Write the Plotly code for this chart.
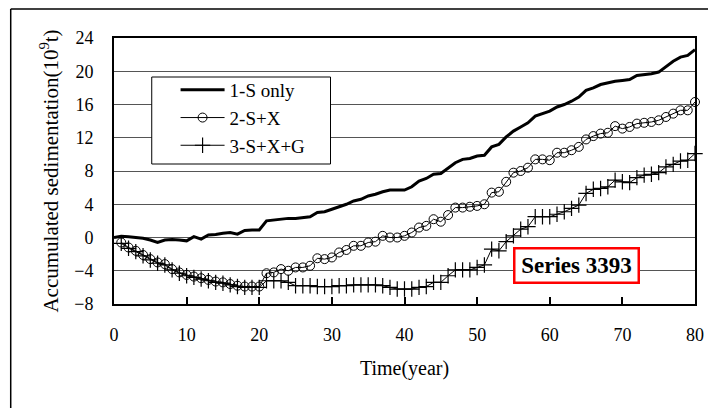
import plotly.graph_objects as go

years_s1 = list(range(0, 81))
years_s23 = list(range(1, 81))

s1_only = [0.0, 0.15, 0.1, 0.0, -0.1, -0.3, -0.6, -0.3, -0.25, -0.3, -0.4,
           0.1, -0.2, 0.3, 0.35, 0.5, 0.6, 0.4, 0.85, 0.9, 0.9,
           2.0, 2.1, 2.2, 2.3, 2.3, 2.4, 2.5, 3.0, 3.1, 3.4,
           3.7, 4.0, 4.4, 4.6, 5.0, 5.2, 5.5, 5.7, 5.7, 5.7,
           6.1, 6.8, 7.1, 7.6, 7.7, 8.4, 9.0, 9.4, 9.5, 9.8,
           9.9, 10.9, 11.2, 12.1, 12.8, 13.3, 13.8, 14.6, 14.9, 15.2,
           15.7, 16.0, 16.4, 16.9, 17.7, 18.0, 18.4, 18.6, 18.8, 18.9,
           19.0, 19.5, 19.6, 19.7, 19.9, 20.6, 21.2, 21.7, 21.9, 22.6]

s2_sx = [-0.6, -1.2, -1.6, -2.1, -2.6, -3.0, -3.2, -3.8, -4.2, -4.5,
         -4.7, -4.9, -5.1, -5.3, -5.4, -5.6, -5.8, -5.9, -5.9, -5.9,
         -4.3, -4.2, -3.8, -4.0, -3.6, -3.6, -3.4, -2.5, -2.6, -2.4,
         -1.8, -1.5, -1.0, -1.0, -0.6, -0.5, 0.2, 0.0, 0.0, 0.2,
         0.6, 1.2, 1.4, 2.2, 1.9, 2.7, 3.6, 3.6, 3.7, 3.8,
         4.0, 5.4, 5.5, 6.7, 7.8, 8.0, 8.4, 9.4, 9.4, 9.3,
         10.2, 10.2, 10.5, 10.9, 11.8, 12.2, 12.5, 12.6, 13.4, 13.1,
         13.3, 13.7, 13.8, 13.9, 14.1, 14.5, 14.9, 15.3, 15.3, 16.3]

s3_sxg = [-0.7, -1.3, -1.7, -2.2, -2.7, -3.1, -3.3, -3.9, -4.3, -4.6,
          -4.8, -5.0, -5.2, -5.4, -5.5, -5.7, -5.9, -6.0, -6.0, -6.0,
          -5.2, -5.2, -5.2, -5.4, -5.8, -5.8, -5.8, -5.9, -5.9, -5.9,
          -5.8, -5.8, -5.7, -5.7, -5.7, -5.7, -5.8, -6.0, -6.2, -6.2,
          -6.2, -6.0, -5.9, -5.4, -5.4, -4.6, -3.9, -3.9, -3.9, -3.6,
          -3.3, -1.4, -1.6, -0.5, 0.2, 1.0, 1.3, 2.5, 2.5, 2.5,
          2.8, 3.1, 3.5, 3.9, 5.3, 5.8, 5.9, 6.1, 6.9, 6.7,
          6.6, 7.2, 7.5, 7.6, 7.8, 8.5, 8.8, 9.2, 9.3, 10.1]

series_names = ["1-S only", "2-S+X", "3-S+X+G"]
x_ticks = [0, 10, 20, 30, 40, 50, 60, 70, 80]
y_ticks = [-8, -4, 0, 4, 8, 12, 16, 20, 24]

SERIF = "Liberation Serif, Times New Roman, serif"

fig = go.Figure()
fig.add_trace(go.Scatter(x=years_s1, y=s1_only, mode="lines", name=series_names[0],
                         line=dict(color="black", width=3),
                         cliponaxis=False))
fig.add_trace(go.Scatter(x=years_s23, y=s2_sx, mode="lines+markers", name=series_names[1],
                         line=dict(color="black", width=1),
                         marker=dict(symbol="circle-open", size=9, color="black",
                                     line=dict(width=1, color="black")),
                         cliponaxis=False))
fig.add_trace(go.Scatter(x=years_s23, y=s3_sxg, mode="lines+markers", name=series_names[2],
                         line=dict(color="black", width=1),
                         marker=dict(symbol="cross-thin-open", size=11, color="black",
                                     line=dict(width=1.2, color="black")),
                         cliponaxis=False))

# page has an 8px body margin: figure occupies page (8..716, 8..408)
OFF = 8
PL, PR, PT, PB = 114, 699, 38, 304   # plot area in page pixels
W, H = 716 - OFF, 408 - OFF
L, T = PL - OFF, PT - OFF
R, B = (W + OFF) - PR, (H + OFF) - PB
pw, ph = PR - PL, PB - PT


def px(xp):
    return (xp - PL) / pw


def py(yp):
    return (PB - yp) / ph


fig.update_layout(
    width=W, height=H,
    margin=dict(l=L, r=R, t=T, b=B, pad=0),
    paper_bgcolor="white", plot_bgcolor="white",
    font=dict(family=SERIF, color="black", size=18),
    showlegend=True,
    legend=dict(x=px(176), y=py(71), xanchor="left", yanchor="top",
                bgcolor="rgba(0,0,0,0)", borderwidth=0,
                font=dict(family=SERIF, size=19, color="black"),
                tracegroupgap=0, itemwidth=44),
    xaxis=dict(range=[0, 80], tickvals=x_ticks, ticktext=[str(v) for v in x_ticks],
               showgrid=False, zeroline=False, showline=True, linecolor="black",
               linewidth=2, mirror=True, ticks="inside", ticklen=7, tickwidth=1.5,
               tickcolor="black", ticklabelstandoff=13,
               tickfont=dict(family=SERIF, size=18),
               title=dict(text="Time(year)", font=dict(family=SERIF, size=20), standoff=17)),
    yaxis=dict(range=[-8, 24], tickvals=y_ticks, showgrid=True, gridcolor="#555555",
               gridwidth=1, zeroline=False, showline=True, linecolor="black",
               linewidth=2, mirror=True, ticks="", ticklabelstandoff=15,
               tickfont=dict(family=SERIF, size=18),
               title=dict(text="Accumulated sedimentation(10<sup>9</sup>t)",
                          font=dict(family=SERIF, size=21), standoff=10)),
    shapes=[
        dict(type="line", xref="paper", yref="paper",
             x0=px(10), x1=px(716), y0=py(9), y1=py(9),
             line=dict(color="black", width=1.5), layer="above"),
        dict(type="line", xref="paper", yref="paper",
             x0=px(10), x1=px(10), y0=py(9), y1=py(408),
             line=dict(color="black", width=1.5), layer="above"),
        dict(type="rect", xref="paper", yref="paper",
             x0=px(152), x1=px(332), y0=py(164), y1=py(77),
             line=dict(color="black", width=1), fillcolor="white", layer="above"),
    ],
    annotations=[
        dict(text="<b>Series 3393</b>", xref="paper", yref="paper",
             x=px(579.5), y=py(265), xanchor="center", yanchor="middle",
             showarrow=False, font=dict(family=SERIF, size=23, color="black"),
             bgcolor="white", bordercolor="red", borderwidth=2.5, borderpad=1,
             width=120, height=30),
    ],
)

fig.write_html("out.html")
